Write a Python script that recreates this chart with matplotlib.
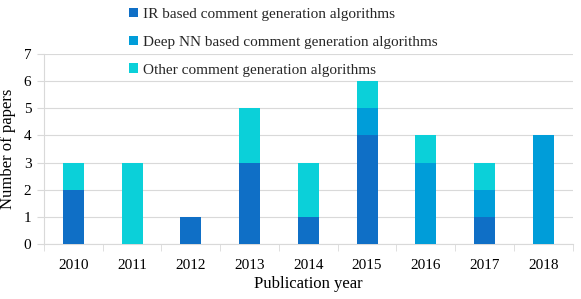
import numpy as np
import matplotlib
matplotlib.use("Agg")
import matplotlib.pyplot as plt

# データ
years = ["2010", "2011", "2012", "2013", "2014", "2015", "2016", "2017", "2018"]
ir_based = [2, 0, 1, 3, 1, 4, 0, 1, 0]
deep_nn = [0, 0, 0, 0, 0, 1, 3, 1, 4]
other = [1, 3, 0, 2, 2, 1, 1, 1, 0]

labels = ["IR based comment generation algorithms",
          "Deep NN based comment generation algorithms",
          "Other comment generation algorithms"]
colors = ["#0F6FC6", "#009DD9", "#0BD0D9"]

plt.rcParams['font.family'] = ['Liberation Serif', 'DejaVu Serif']

fig = plt.figure(figsize=(5.81, 2.99), dpi=100)
ax = fig.add_axes([0.0757, 0.184, 0.910, 0.635])

x = np.arange(len(years))
w = 0.36
bottom = np.zeros(len(years))
handles = []
for vals, lab, c in zip([ir_based, deep_nn, other], labels, colors):
    h = ax.bar(x, vals, w, bottom=bottom, color=c, label=lab, zorder=3)
    handles.append(h)
    bottom += np.array(vals)

ax.set_xlim(-0.5, len(years) - 0.5)
ax.set_ylim(0, 7)
ax.set_yticks(range(8))
ax.yaxis.grid(True, color="#D9D9D9", linewidth=0.8, zorder=0)
ax.tick_params(axis='y', length=5, color="#D9D9D9", labelsize=11, pad=4)

ax.set_xticks(x)
ax.set_xticklabels(years, fontsize=11)
ax.set_xticks(np.arange(-0.5, len(years)), minor=True)
ax.tick_params(axis='x', which='major', length=0, pad=11)
ax.tick_params(axis='x', which='minor', length=5, color="#D9D9D9")

for s in ["top", "right"]:
    ax.spines[s].set_visible(False)
ax.spines["left"].set_color("#D9D9D9")
ax.spines["bottom"].set_color("#D9D9D9")

ax.set_xlabel("Publication year", fontsize=12, labelpad=3)
ax.set_ylabel("Number of papers", fontsize=12, labelpad=6)

fig.legend(handles, labels, loc="upper left", bbox_to_anchor=(0.198, 1.02),
           frameon=False, fontsize=11, handlelength=0.6, handleheight=0.6,
           handletextpad=0.3, labelspacing=0.95, labelcolor="#262626")

fig.savefig("out.png", dpi=100)
